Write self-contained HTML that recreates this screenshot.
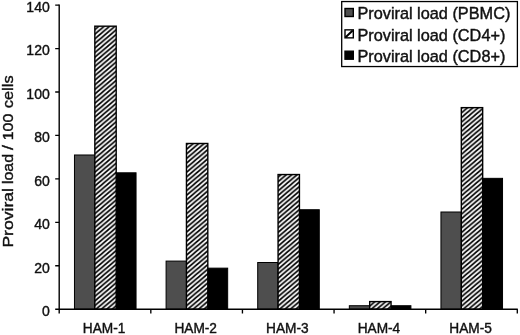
<!DOCTYPE html>
<html><head><meta charset="utf-8"><title>Proviral load</title>
<style>
html,body{margin:0;padding:0;background:#fff;}
body{width:520px;height:335px;overflow:hidden;}
svg{display:block;}
text{font-family:"Liberation Sans",Arial,Helvetica,sans-serif;fill:#111;stroke:#111;stroke-width:0.4px;}
</style></head><body>
<svg width="520" height="335" viewBox="0 0 520 335">
<defs>
<pattern id="h" patternUnits="userSpaceOnUse" width="5.4" height="4.6">
<rect width="5.4" height="4.6" fill="#fff"/>
<path d="M-5.4 4.6L5.4 -4.6M0 4.6L5.4 0M0 9.2L10.8 0" stroke="#000" stroke-width="1.65" fill="none"/>
</pattern>
</defs>
<rect width="520" height="335" fill="#fff"/>

<rect x="74.47" y="154.99" width="20.36" height="154.21" fill="#4e4e4e" stroke="#000" stroke-width="1"/>
<rect x="115.19" y="172.80" width="20.86" height="136.40" fill="#000" stroke="#000" stroke-width="1"/>
<rect x="94.83" y="26.19" width="21.36" height="283.01" fill="url(#h)" stroke="#000" stroke-width="1.4"/>
<rect x="166.09" y="261.09" width="20.36" height="48.11" fill="#4e4e4e" stroke="#000" stroke-width="1"/>
<rect x="206.81" y="268.15" width="20.86" height="41.05" fill="#000" stroke="#000" stroke-width="1"/>
<rect x="186.45" y="143.48" width="21.36" height="165.72" fill="url(#h)" stroke="#000" stroke-width="1.4"/>
<rect x="257.71" y="262.50" width="20.36" height="46.70" fill="#4e4e4e" stroke="#000" stroke-width="1"/>
<rect x="298.43" y="209.72" width="20.86" height="99.48" fill="#000" stroke="#000" stroke-width="1"/>
<rect x="278.07" y="174.54" width="21.36" height="134.66" fill="url(#h)" stroke="#000" stroke-width="1.4"/>
<rect x="349.33" y="305.72" width="20.36" height="3.48" fill="#4e4e4e" stroke="#000" stroke-width="1"/>
<rect x="390.05" y="305.72" width="20.86" height="3.48" fill="#000" stroke="#000" stroke-width="1"/>
<rect x="369.69" y="301.60" width="21.36" height="7.60" fill="url(#h)" stroke="#000" stroke-width="1.4"/>
<rect x="440.95" y="212.00" width="20.36" height="97.20" fill="#4e4e4e" stroke="#000" stroke-width="1"/>
<rect x="481.67" y="178.34" width="20.86" height="130.86" fill="#000" stroke="#000" stroke-width="1"/>
<rect x="461.31" y="107.64" width="21.36" height="201.56" fill="url(#h)" stroke="#000" stroke-width="1.4"/>
<path d="M59.2 4.62V313.5M55.2 309.2H517.8" stroke="#000" stroke-width="1.4" fill="none"/>
<path d="M55.2 265.76H59.2M55.2 222.32H59.2M55.2 178.88H59.2M55.2 135.44H59.2M55.2 92.00H59.2M55.2 48.56H59.2M55.2 5.12H59.2M150.82 309.2V313.5M242.44 309.2V313.5M334.06 309.2V313.5M425.68 309.2V313.5M517.30 309.2V313.5" stroke="#000" stroke-width="1.35" fill="none"/>
<text transform="translate(49.8,316.10) scale(0.975,1)" font-size="14.4" text-anchor="end">0</text>
<text transform="translate(49.8,272.60) scale(0.975,1)" font-size="14.4" text-anchor="end">20</text>
<text transform="translate(49.8,229.10) scale(0.975,1)" font-size="14.4" text-anchor="end">40</text>
<text transform="translate(49.8,185.60) scale(0.975,1)" font-size="14.4" text-anchor="end">60</text>
<text transform="translate(49.8,142.10) scale(0.975,1)" font-size="14.4" text-anchor="end">80</text>
<text transform="translate(49.8,98.60) scale(0.975,1)" font-size="14.4" text-anchor="end">100</text>
<text transform="translate(49.8,55.10) scale(0.975,1)" font-size="14.4" text-anchor="end">120</text>
<text transform="translate(49.8,11.60) scale(0.975,1)" font-size="14.4" text-anchor="end">140</text>
<text transform="translate(104.06,333.0) scale(0.985,1)" font-size="13.9" stroke-width="0.5" text-anchor="middle">HAM-1</text>
<text transform="translate(195.68,333.0) scale(0.985,1)" font-size="13.9" stroke-width="0.5" text-anchor="middle">HAM-2</text>
<text transform="translate(287.30,333.0) scale(0.985,1)" font-size="13.9" stroke-width="0.5" text-anchor="middle">HAM-3</text>
<text transform="translate(378.92,333.0) scale(0.985,1)" font-size="13.9" stroke-width="0.5" text-anchor="middle">HAM-4</text>
<text transform="translate(470.54,333.0) scale(0.985,1)" font-size="13.9" stroke-width="0.5" text-anchor="middle">HAM-5</text>
<text transform="translate(13.0,247.6) rotate(-90) scale(1.17,1)" font-size="15.3" word-spacing="-2.65" stroke-width="0.15"><tspan x="0" textLength="50.9" lengthAdjust="spacingAndGlyphs">Proviral</tspan> <tspan x="54.3" textLength="25.7" lengthAdjust="spacingAndGlyphs">load</tspan> <tspan x="83.4">/</tspan> <tspan x="91.7" textLength="22.8" lengthAdjust="spacingAndGlyphs">100</tspan> <tspan x="119.2" textLength="27.95" lengthAdjust="spacingAndGlyphs">cells</tspan></text>
<rect x="341.7" y="1.55" width="175.7" height="65.0" fill="#fff" stroke="#000" stroke-width="1.3"/>
<rect x="345" y="8.50" width="8.3" height="8" fill="#4e4e4e" stroke="#000" stroke-width="1.4"/>
<text transform="translate(357.4,19.40) scale(1.045,1)" font-size="15.6">Proviral load (PBMC)</text>
<rect x="345" y="29.85" width="8.3" height="8" fill="#fff" stroke="#000" stroke-width="1.4"/>
<path d="M345.6 37.25L352.7 30.45" stroke="#000" stroke-width="2" fill="none"/>
<text transform="translate(357.4,41.00) scale(1.045,1)" font-size="15.6">Proviral load (CD4+)</text>
<rect x="345" y="51.20" width="8.3" height="8" fill="#000" stroke="#000" stroke-width="1.4"/>
<text transform="translate(357.4,61.80) scale(1.045,1)" font-size="15.6">Proviral load (CD8+)</text>
</svg></body></html>
